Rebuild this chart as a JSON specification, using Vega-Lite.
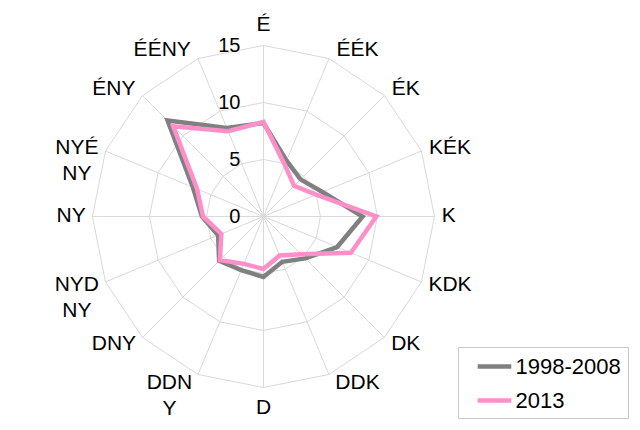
{
  "$schema": "https://vega.github.io/schema/vega-lite/v6.json",
  "width": 640,
  "height": 430,
  "autosize": "none",
  "padding": 0,
  "background": "white",
  "config": {"view": {"stroke": null}, "font": "Liberation Sans"},
  "datasets": {
    "dirs": [
      {"dir": "É", "bearing": 0, "label": "É", "rings": [5, 10, 15]},
      {"dir": "ÉÉK", "bearing": 22.5, "label": "ÉÉK", "rings": [5, 10, 15]},
      {"dir": "ÉK", "bearing": 45, "label": "ÉK", "rings": [5, 10, 15]},
      {"dir": "KÉK", "bearing": 67.5, "label": "KÉK", "rings": [5, 10, 15]},
      {"dir": "K", "bearing": 90, "label": "K", "rings": [5, 10, 15]},
      {"dir": "KDK", "bearing": 112.5, "label": "KDK", "rings": [5, 10, 15]},
      {"dir": "DK", "bearing": 135, "label": "DK", "rings": [5, 10, 15]},
      {"dir": "DDK", "bearing": 157.5, "label": "DDK", "rings": [5, 10, 15]},
      {"dir": "D", "bearing": 180, "label": "D", "rings": [5, 10, 15]},
      {"dir": "DDNY", "bearing": 202.5, "label": "DDN|Y", "rings": [5, 10, 15]},
      {"dir": "DNY", "bearing": 225, "label": "DNY", "rings": [5, 10, 15]},
      {"dir": "NYDNY", "bearing": 247.5, "label": "NYD|NY", "rings": [5, 10, 15]},
      {"dir": "NY", "bearing": 270, "label": "NY", "rings": [5, 10, 15]},
      {"dir": "NYÉNY", "bearing": 292.5, "label": "NYÉ|NY", "rings": [5, 10, 15]},
      {"dir": "ÉNY", "bearing": 315, "label": "ÉNY", "rings": [5, 10, 15]},
      {"dir": "ÉÉNY", "bearing": 337.5, "label": "ÉÉNY", "rings": [5, 10, 15]}
    ],
    "series": [
      {"series": "1998-2008", "dir": "É", "value": 8.2},
      {"series": "1998-2008", "dir": "ÉÉK", "value": 5.3},
      {"series": "1998-2008", "dir": "ÉK", "value": 4.6},
      {"series": "1998-2008", "dir": "KÉK", "value": 5.6},
      {"series": "1998-2008", "dir": "K", "value": 8.7},
      {"series": "1998-2008", "dir": "KDK", "value": 7.0},
      {"series": "1998-2008", "dir": "DK", "value": 5.2},
      {"series": "1998-2008", "dir": "DDK", "value": 4.3},
      {"series": "1998-2008", "dir": "D", "value": 5.3},
      {"series": "1998-2008", "dir": "DDNY", "value": 5.1},
      {"series": "1998-2008", "dir": "DNY", "value": 5.5},
      {"series": "1998-2008", "dir": "NYDNY", "value": 4.3},
      {"series": "1998-2008", "dir": "NY", "value": 5.4},
      {"series": "1998-2008", "dir": "NYÉNY", "value": 6.7},
      {"series": "1998-2008", "dir": "ÉNY", "value": 11.9},
      {"series": "1998-2008", "dir": "ÉÉNY", "value": 8.4},
      {"series": "2013", "dir": "É", "value": 8.3},
      {"series": "2013", "dir": "ÉÉK", "value": 4.9},
      {"series": "2013", "dir": "ÉK", "value": 3.8},
      {"series": "2013", "dir": "KÉK", "value": 5.0},
      {"series": "2013", "dir": "K", "value": 9.9},
      {"series": "2013", "dir": "KDK", "value": 8.3},
      {"series": "2013", "dir": "DK", "value": 4.7},
      {"series": "2013", "dir": "DDK", "value": 3.7},
      {"series": "2013", "dir": "D", "value": 4.6},
      {"series": "2013", "dir": "DDNY", "value": 4.5},
      {"series": "2013", "dir": "DNY", "value": 5.4},
      {"series": "2013", "dir": "NYDNY", "value": 4.0},
      {"series": "2013", "dir": "NY", "value": 5.3},
      {"series": "2013", "dir": "NYÉNY", "value": 6.3},
      {"series": "2013", "dir": "ÉNY", "value": 11.2},
      {"series": "2013", "dir": "ÉÉNY", "value": 8.1}
    ],
    "ticks": [{"v": 0}, {"v": 5}, {"v": 10}, {"v": 15}]
  },
  "resolve": {"scale": {"x": "shared", "y": "shared"}},
  "layer": [
    {
      "data": {"name": "dirs"},
      "transform": [
        {"calculate": "0", "as": "zero"},
        {"calculate": "15*sin(datum.bearing*PI/180)", "as": "sx"},
        {"calculate": "15*cos(datum.bearing*PI/180)", "as": "sy"}
      ],
      "mark": {"type": "rule", "stroke": "#d9d9d9", "strokeWidth": 1},
      "encoding": {
        "x": {"field": "zero", "type": "quantitative", "scale": {"domain": [-23.11, 33.03], "nice": false, "zero": false}, "axis": null},
        "y": {"field": "zero", "type": "quantitative", "scale": {"domain": [-18.73, 18.99], "nice": false, "zero": false}, "axis": null},
        "x2": {"field": "sx"},
        "y2": {"field": "sy"}
      }
    },
    {
      "data": {"name": "dirs"},
      "transform": [
        {"flatten": ["rings"], "as": ["ring"]},
        {"calculate": "datum.ring*sin(datum.bearing*PI/180)", "as": "gx"},
        {"calculate": "datum.ring*cos(datum.bearing*PI/180)", "as": "gy"}
      ],
      "mark": {"type": "line", "interpolate": "linear-closed", "stroke": "#d9d9d9", "strokeWidth": 1},
      "encoding": {
        "x": {"field": "gx", "type": "quantitative"},
        "y": {"field": "gy", "type": "quantitative"},
        "detail": {"field": "ring", "type": "nominal"},
        "order": {"field": "bearing", "type": "quantitative"}
      }
    },
    {
      "data": {"name": "ticks"},
      "transform": [{"calculate": "0", "as": "zero"}],
      "mark": {"type": "text", "align": "right", "baseline": "middle", "dx": -23, "dy": 1, "fontSize": 20, "font": "Liberation Sans", "fill": "black"},
      "encoding": {
        "x": {"field": "zero", "type": "quantitative"},
        "y": {"field": "v", "type": "quantitative"},
        "text": {"field": "v", "type": "quantitative"}
      }
    },
    {
      "data": {"name": "series"},
      "transform": [
        {"lookup": "dir", "from": {"data": {"name": "dirs"}, "key": "dir", "fields": ["bearing"]}},
        {"calculate": "datum.value*sin(datum.bearing*PI/180)", "as": "px"},
        {"calculate": "datum.value*cos(datum.bearing*PI/180)", "as": "py"}
      ],
      "mark": {"type": "line", "interpolate": "linear-closed", "strokeWidth": 4.5, "strokeJoin": "miter"},
      "encoding": {
        "x": {"field": "px", "type": "quantitative"},
        "y": {"field": "py", "type": "quantitative"},
        "order": {"field": "bearing", "type": "quantitative"},
        "color": {
          "field": "series", "type": "nominal",
          "scale": {"domain": ["1998-2008", "2013"], "range": ["#808080", "#ff8fc8"]},
          "legend": {
            "title": null, "orient": "none", "legendX": 458, "legendY": 347,
            "strokeColor": "#c8c8c8", "fillColor": "white", "padding": 6.5,
            "symbolType": "M-1.6,0H1.6", "symbolSize": 441, "symbolStrokeWidth": 4.5,
            "symbolOffset": 17, "labelOffset": 8, "rowPadding": 10,
            "labelFontSize": 22, "labelFont": "Liberation Sans", "labelColor": "black"
          }
        }
      }
    },
    {
      "data": {"name": "dirs"},
      "transform": [
        {"calculate": "sin(datum.bearing*PI/180)", "as": "s"},
        {"calculate": "cos(datum.bearing*PI/180)", "as": "c"},
        {"calculate": "indexof(datum.label,'|') < 0 ? length(datum.label) : max(indexof(datum.label,'|'), length(datum.label) - indexof(datum.label,'|') - 1)", "as": "len"},
        {"calculate": "abs(datum.s) < 0.01 ? 0 : 15*datum.s + (datum.s > 0 ? 1 : -1)*(7 + 7.2*datum.len)/11.4", "as": "lx"},
        {"calculate": "abs(datum.s) < 0.01 ? (datum.c > 0 ? 16.84 : -16.84) : 15.79*datum.c", "as": "ly"}
      ],
      "mark": {"type": "text", "align": "center", "baseline": "middle", "fontSize": 21, "font": "Liberation Sans", "fill": "black", "lineBreak": "|", "lineHeight": 26},
      "encoding": {
        "x": {"field": "lx", "type": "quantitative"},
        "y": {"field": "ly", "type": "quantitative"},
        "text": {"field": "label", "type": "nominal"}
      }
    }
  ]
}
